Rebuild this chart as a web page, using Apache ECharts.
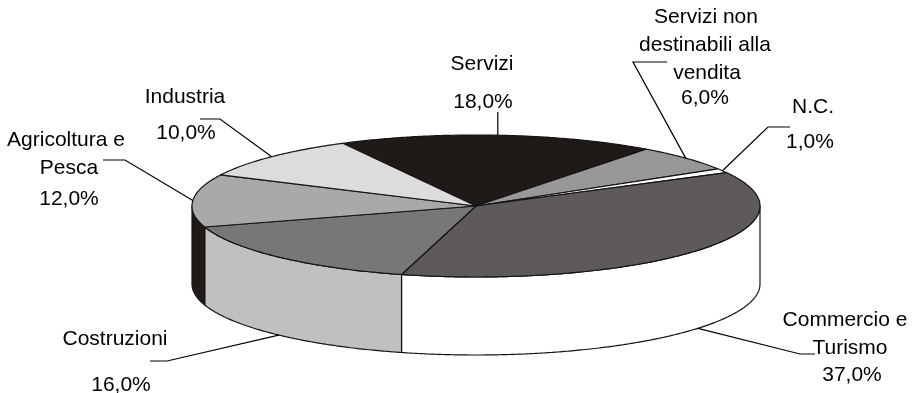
<!DOCTYPE html>
<html>
<head>
<meta charset="utf-8">
<script src="https://cdn.jsdelivr.net/npm/echarts@6/dist/echarts.min.js"></script>
<style>
  html, body { margin: 0; padding: 0; background: #ffffff; }
  #chart { width: 917px; height: 393px; }
</style>
</head>
<body>
<div id="chart"></div>
<script>
// Occupati per settore (quote percentuali)
const categories = [
  'Servizi',
  'Servizi non\ndestinabili alla\nvendita',
  'N.C.',
  'Commercio e\nTurismo',
  'Costruzioni',
  'Agricoltura e\nPesca',
  'Industria'
];
const shares = [18.0, 6.0, 1.0, 37.0, 16.0, 12.0, 10.0];

// Fill colours of the top faces and of the outer walls
const topColors  = ['#1f1a17', '#979797', '#ffffff', '#5e5a5a', '#777777', '#a9a9a9', '#dcdcdc'];
const sideColors = ['#1f1a17', '#979797', '#ffffff', '#ffffff', '#c0c0c0', '#1f1a17', '#dcdcdc'];

// Tilted disc geometry (angles in degrees, clockwise from 12 o'clock)
const PIE = { cx: 476, cy: 206, rx: 284, ry: 71, depth: 78, start: -28 };
const EDGE = '#141414';
const FONT = '"Liberation Sans", Arial, Helvetica, sans-serif';
const FONT_SIZE = 21;

// Label placement: centre x of each text line, centre y of each line, leader bend points
const labelLayout = [
  { xs: [482, 483], ys: [64, 102], leader: [['anchor', 112]] },
  { xs: [706, 705, 707, 705], ys: [17, 45, 73, 98], leader: [[633, 62], [667, 62]] },
  { xs: [813, 810], ys: [107, 142], leader: [[768, 127], [790, 127]] },
  { xs: [845, 850, 852], ys: [320, 348, 375], leader: [[800, 354], [815, 354]] },
  { xs: [115, 121], ys: [339, 385], leader: [[167, 361], [150, 361]] },
  { xs: [66, 69, 69], ys: [140, 168, 199], leader: [[125, 160], [103, 160]] },
  { xs: [185, 186], ys: [97, 133], leader: [[220, 119], [200, 119]] }
];

function point(deg, drop) {
  const r = deg * Math.PI / 180;
  return [PIE.cx + PIE.rx * Math.sin(r), PIE.cy - PIE.ry * Math.cos(r) + (drop || 0)];
}
function arc(from, to, drop) {
  const pts = [];
  const n = Math.max(2, Math.ceil(Math.abs(to - from) / 0.5));
  for (let k = 0; k <= n; k++) pts.push(point(from + (to - from) * k / n, drop));
  return pts;
}

const total = shares.reduce((s, v) => s + v, 0);
function spanOf(i) {
  let before = 0;
  for (let k = 0; k < i; k++) before += shares[k];
  const a = PIE.start + before / total * 360;
  return [a, a + shares[i] / total * 360];
}
function fmt(v) { return v.toFixed(1).replace('.', ',') + '%'; }

const seriesData = shares.map((v, i) => ({ value: [v, i], name: categories[i] }));

// Outer walls: only the front half of the disc (90°..270°) is visible
function renderSide(params, api) {
  const i = api.value(1);
  const [a, b] = spanOf(i);
  const lo = Math.max(a, 90), hi = Math.min(b, 270);
  if (hi <= lo) return null;
  const pts = arc(lo, hi, 0).concat(arc(hi, lo, PIE.depth));
  return {
    type: 'polygon',
    shape: { points: pts },
    style: { fill: sideColors[i], stroke: EDGE, lineWidth: 1.2, lineJoin: 'round' }
  };
}

// Top faces: elliptical sectors
function renderTop(params, api) {
  const i = api.value(1);
  const [a, b] = spanOf(i);
  const pts = [[PIE.cx, PIE.cy]].concat(arc(a, b, 0));
  return {
    type: 'polygon',
    shape: { points: pts },
    style: { fill: topColors[i], stroke: EDGE, lineWidth: 1.2, lineJoin: 'round' }
  };
}

// Category + percentage labels with leader lines
function renderLabel(params, api) {
  const i = api.value(1);
  const value = api.value(0);
  const [a, b] = spanOf(i);
  const mid = (a + b) / 2;
  const norm = ((mid % 360) + 360) % 360;
  const front = norm > 90 && norm < 270;
  const anchor = point(mid, front ? PIE.depth : 0);
  const lay = labelLayout[i];
  const pts = [anchor].concat(lay.leader.map(p => [p[0] === 'anchor' ? anchor[0] : p[0], p[1]]));
  const lines = categories[i].split('\n').concat([fmt(value)]);
  const children = [{
    type: 'polyline',
    shape: { points: pts },
    style: { stroke: '#000', lineWidth: 1.2, fill: null }
  }];
  lines.forEach((t, k) => {
    children.push({
      type: 'text',
      style: {
        text: t, x: lay.xs[k], y: lay.ys[k],
        align: 'center', verticalAlign: 'middle',
        font: FONT_SIZE + 'px ' + FONT, fill: '#000'
      }
    });
  });
  return { type: 'group', children };
}

const chart = echarts.init(document.getElementById('chart'), null, { renderer: 'canvas' });
chart.setOption({
  backgroundColor: '#ffffff',
  animation: false,
  series: [
    { type: 'custom', coordinateSystem: 'none', silent: true, z: 1, data: seriesData, renderItem: renderSide },
    { type: 'custom', coordinateSystem: 'none', silent: true, z: 2, data: seriesData, renderItem: renderTop },
    { type: 'custom', coordinateSystem: 'none', silent: true, z: 3, data: seriesData, renderItem: renderLabel }
  ]
});
</script>
</body>
</html>
